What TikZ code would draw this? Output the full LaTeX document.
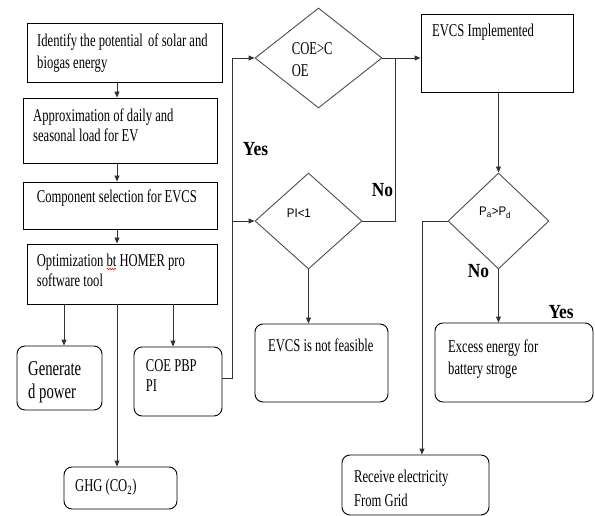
\documentclass[tikz,border=0pt]{standalone}
\usepackage{fontspec}
\setmainfont{Liberation Serif}
\newfontfamily\condrm{Liberation Serif}[FakeStretch=0.7]
\newfontfamily\condbf{Liberation Serif}[FakeStretch=0.87]
\newfontfamily\condsf{Liberation Sans}[FakeStretch=0.92]
\usetikzlibrary{shapes.geometric,arrows.meta,decorations.pathmorphing}
\begin{document}
\begin{tikzpicture}[x=1pt,y=-1pt,
  box/.style={draw=black, line width=0.9pt, rectangle, inner sep=0pt},
  rbox/.style={box, rounded corners=8pt},
  dia/.style={draw=black!70, line width=0.9pt, diamond, inner sep=0pt},
  txt/.style={anchor=base west, inner sep=0pt, font=\condrm\fontsize{18}{21}\selectfont},
  bigtxt/.style={anchor=base west, inner sep=0pt, font=\condrm\fontsize{21}{24}\selectfont},
  sftxt/.style={anchor=base west, inner sep=0pt, font=\condsf\fontsize{12.5}{15}\selectfont},
  yn/.style={anchor=base west, inner sep=0pt, font=\condbf\bfseries\fontsize{20}{24}\selectfont},
  flow/.style={draw=black!80, line width=0.9pt},
  arr/.style={flow, -{Triangle[length=6pt,width=5pt]}}]
\useasboundingbox (0,0) rectangle (595,516);

% rectangles
\node[box, minimum width=195pt, minimum height=59pt] (b1) at (124.5,52.5) {};
\node[box, minimum width=194pt, minimum height=65pt] (b2) at (120,130.5) {};
\node[box, minimum width=194pt, minimum height=47pt] (b3) at (120,205.5) {};
\node[box, minimum width=190pt, minimum height=60pt] (b4) at (122,274) {};
\node[box, minimum width=152pt, minimum height=78pt] (impl) at (497,53) {};
% rounded boxes
\node[rbox, minimum width=85pt, minimum height=64pt] (gen) at (59.5,378) {};
\node[rbox, minimum width=88pt, minimum height=69pt] (coe) at (178,381.5) {};
\node[rbox, minimum width=113pt, minimum height=42pt] (ghg) at (120.5,488) {};
\node[rbox, minimum width=133pt, minimum height=78pt] (nf) at (321.5,363) {};
\node[rbox, minimum width=158pt, minimum height=79pt] (exc) at (514,362.5) {};
\node[rbox, minimum width=147pt, minimum height=60pt] (rcv) at (415.5,485) {};
% diamonds
\node[dia, minimum width=127pt, minimum height=100pt] (d1) at (318.5,58) {};
\node[dia, minimum width=107pt, minimum height=96pt] (d2) at (308.5,221) {};
\node[dia, minimum width=101pt, minimum height=96pt] (d3) at (498.5,221) {};

% texts
\node[txt] (t1a) at (37,47) {Identify the potential\hspace{0.12em} of solar and};
\node[txt] (t1b) at (37,68.5) {biogas energy};
\node[txt] (t2a) at (33,121.5) {Approximation of daily and};
\node[txt] (t2b) at (33,141.7) {seasonal load for EV};
\node[txt] (t3) at (36.7,202.7) {Component selection for EVCS};
\node[txt] (t4a) at (36.7,266.7) {Optimization bt HOMER pro};
\node[txt] (t4b) at (36.7,286) {software tool};
\node[bigtxt] (tg1) at (28,375) {Generate};
\node[bigtxt] (tg2) at (28,398) {d power};
\node[txt] (tc1) at (145.7,371.7) {COE PBP};
\node[txt] (tc2) at (145.7,391.7) {PI};
\node[txt] (tghg) at (75,491.7) {GHG (CO\textsubscript{2})};
\node[txt] (tnf) at (268,351.7) {EVCS is not feasible};
\node[txt] (te1) at (448,352.3) {Excess energy for};
\node[txt] (te2) at (448,374) {battery stroge};
\node[txt] (tr1) at (354,482.7) {Receive electricity};
\node[txt] (tr2) at (354,506) {From Grid};
\node[txt] (timpl) at (432,36.7) {EVCS Implemented};
\node[txt] (td1a) at (291.7,55) {COE>C};
\node[txt] (td1b) at (291.7,77) {OE};
\node[sftxt] (td2) at (286.7,218) {PI<1};
\node[sftxt] (td3) at (479,216) {P\textsubscript{a}>P\textsubscript{d}};
\node[yn] (yes1) at (242.7,156) {Yes};
\node[yn] (no1) at (371.7,196.7) {No};
\node[yn] (no2) at (467.7,277.3) {No};
\node[yn] (yes2) at (548.3,318.3) {Yes};

% spell-check squiggle
\draw[red, line width=0.5pt, decorate, decoration={snake, segment length=2.5pt, amplitude=0.8pt}] (106.7,269) -- (116.7,269);

% column coordinates
\coordinate (xa) at (117,0);
\coordinate (xg) at (64,0);
\coordinate (xc) at (173,0);
\coordinate (jx) at (232,378);
\coordinate (nx) at (395,0);
\coordinate (rx) at (422,0);

% connectors
\draw[arr] (b1.south -| xa) -- (b2.north -| xa);
\draw[arr] (b2.south -| xa) -- (b3.north -| xa);
\draw[arr] (b3.south -| xa) -- (b4.north -| xa);
\draw[arr] (b4.south -| xg) -- (gen.north -| xg);
\draw[arr] (b4.south -| xa) -- (ghg.north -| xa);
\draw[arr] (b4.south -| xc) -- (coe.north -| xc);
\draw[arr] (coe.east |- jx) -- (jx) -- (jx |- d1.west) -- (d1.west);
\draw[arr] (jx |- d2.west) -- (d2.west);
\draw[arr] (d1.east) -- (d1.east -| impl.west);
\draw[flow] (d2.east) -- (d2.east -| nx) -- (d1.east -| nx);
\draw[arr] (d2.south) -- (d2.south |- nf.north);
\draw[arr] (d3.north |- impl.south) -- (d3.north);
\draw[arr] (d3.west) -- (d3.west -| rx) -- (rx |- rcv.north);
\draw[arr] (d3.south) -- (d3.south |- exc.north);
\end{tikzpicture}
\end{document}
